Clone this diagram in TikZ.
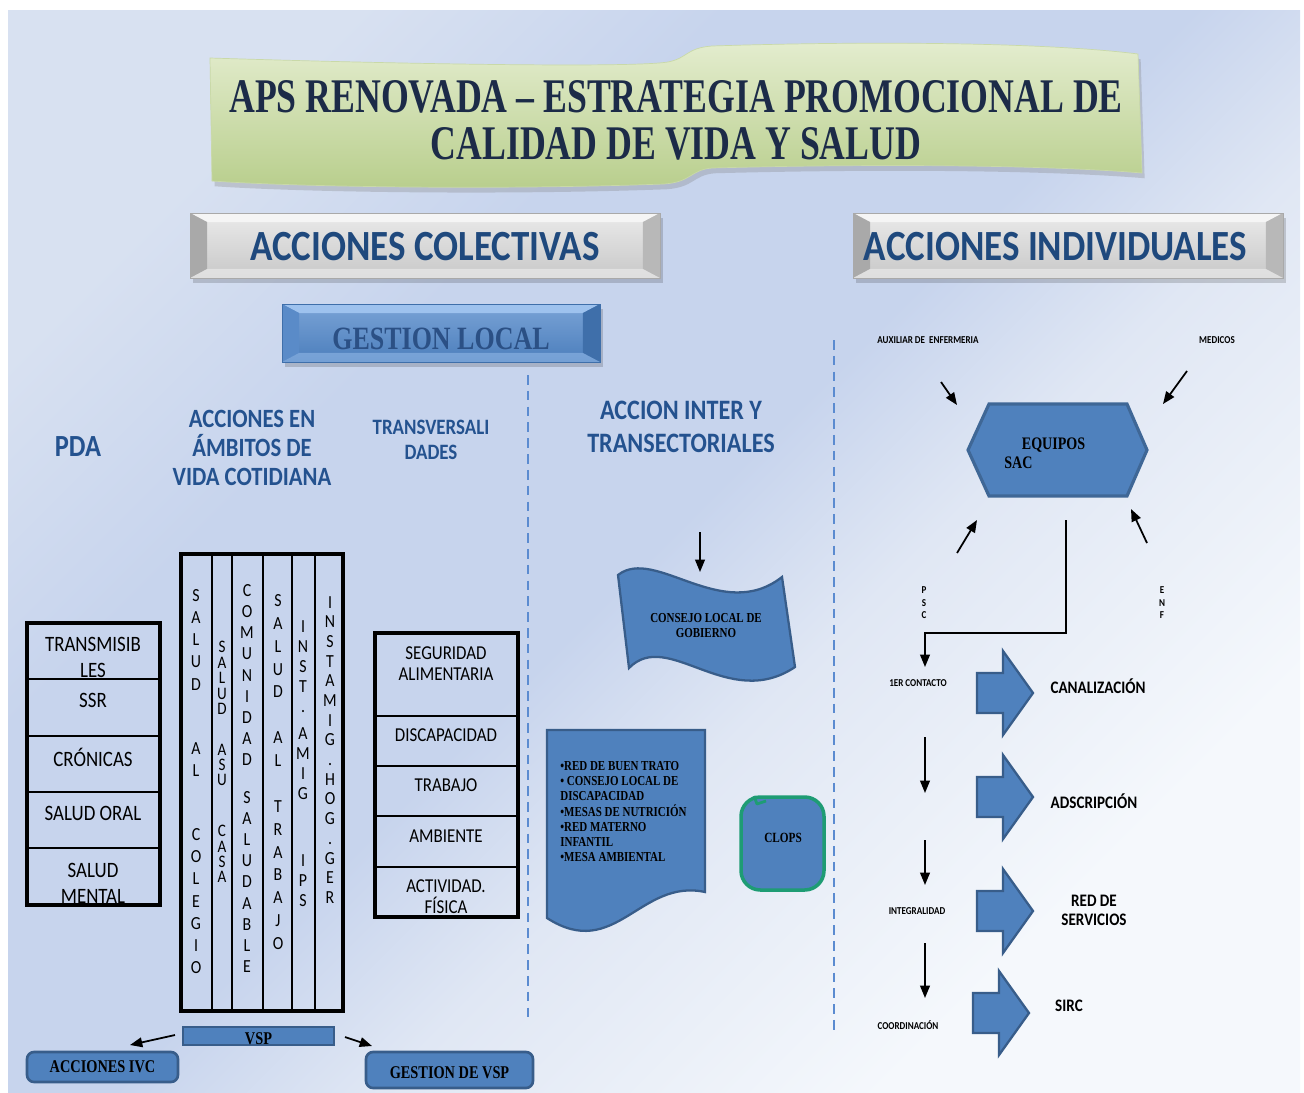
\documentclass[tikz,border=0pt]{standalone}
\usepackage{fontspec}
\setmainfont{Liberation Serif}
\newfontfamily\ttlfont[FakeStretch=0.74]{Liberation Serif}
\newfontfamily\srfont[FakeStretch=0.8]{Liberation Serif}
\newfontfamily\hdfont[FakeStretch=0.86]{Carlito}
\usetikzlibrary{arrows.meta,positioning,shadows}
\definecolor{Fondo}{HTML}{C7D4ED}
\definecolor{FondoMedio}{HTML}{E0E7F4}
\definecolor{FondoClaro}{HTML}{F5F8FC}
\definecolor{FondoArriba}{HTML}{D8E1F1}
\definecolor{Azul}{HTML}{4F81BD}
\definecolor{AzulBorde}{HTML}{385D8A}
\definecolor{AzulHex}{HTML}{3F6796}
\definecolor{AzulTexto}{HTML}{1F497D}
\definecolor{AzulTitulo}{HTML}{24528F}
\definecolor{AzulGestion}{HTML}{2B5085}
\definecolor{Marino}{HTML}{1C2B48}
\definecolor{Guion}{HTML}{5B8BD0}
\definecolor{VerdeA}{HTML}{E4EDCF}
\definecolor{VerdeB}{HTML}{B8CE8C}
\definecolor{VerdeC}{HTML}{C9D9A8}
\definecolor{VerdeBorde}{HTML}{1E9C74}
\definecolor{GrisA}{HTML}{EAEAEA}
\definecolor{GrisB}{HTML}{C8C8C8}
\definecolor{GrisTope}{HTML}{F5F5F5}
\definecolor{GrisIzq}{HTML}{A9A9A9}
\definecolor{GrisDer}{HTML}{B8B8B8}
\definecolor{AzulCaraA}{HTML}{7AA3D6}
\definecolor{AzulCaraB}{HTML}{4B7EBC}
\definecolor{AzulTope}{HTML}{9EC2EE}
\definecolor{AzulIzq}{HTML}{5A8BC8}
\definecolor{AzulDer}{HTML}{3F6FAA}
\pgfdeclareverticalshading{fondoshade}{100bp}{color(0bp)=(FondoClaro); color(27bp)=(FondoClaro);
  color(42bp)=(FondoMedio); color(50bp)=(Fondo); color(64bp)=(Fondo); color(75bp)=(FondoArriba);
  color(100bp)=(FondoArriba)}

\tikzset{
  bevel/.style n args={3}{path picture={
    \coordinate (bnw) at (path picture bounding box.north west);
    \coordinate (bne) at (path picture bounding box.north east);
    \coordinate (bse) at (path picture bounding box.south east);
    \coordinate (bsw) at (path picture bounding box.south west);
    \fill[#1] (bnw) -- (bne) -- ([shift={(-17,9)}]bne) -- ([shift={(17,9)}]bnw) -- cycle;
    \fill[#2] (bnw) -- ([shift={(17,9)}]bnw) -- ([shift={(17,-9)}]bsw) -- (bsw) -- cycle;
    \fill[#3] (bne) -- ([shift={(-17,9)}]bne) -- ([shift={(-17,-9)}]bse) -- (bse) -- cycle;
    \fill[#1,opacity=.5] (bsw) -- ([shift={(17,-9)}]bsw) -- ([shift={(-17,-9)}]bse) -- (bse) -- cycle;
  }},
  graybox/.style={minimum height=1.3cm,inner sep=0pt,top color=GrisA,bottom color=GrisB,
    draw=GrisIzq,line width=.4pt,bevel={GrisTope}{GrisIzq}{GrisDer},text height=17.5pt,text depth=0pt,
    font=\hdfont\bfseries\fontsize{24.5}{26}\selectfont,text=AzulTexto},
  bluebox/.style={minimum height=1.16cm,inner sep=0pt,top color=AzulCaraA,bottom color=AzulCaraB,
    draw=AzulDer,line width=.4pt,bevel={AzulTope}{AzulIzq}{AzulDer},text height=18.4pt,text depth=0pt,
    font=\srfont\bfseries\fontsize{18.5}{20}\selectfont,text=AzulGestion},
  sombra/.style={black,opacity=.16},
  titulo/.style={top color=VerdeA,bottom color=VerdeB,draw=VerdeC,line width=.4pt,
    drop shadow={opacity=.3,shadow xshift=1.5pt,shadow yshift=-3pt}},
  titulotxt/.style={font=\ttlfont\bfseries\fontsize{27.5}{26.7}\selectfont,text=Marino,align=center,inner sep=0pt},
  encabezado/.style={font=\hdfont\bfseries,text=AzulTitulo,align=center,inner sep=0pt},
  celda/.style={font=\hdfont\fontsize{12.5}{14.8}\selectfont,align=center,inner sep=0pt},
  celdab/.style={font=\hdfont\fontsize{11.2}{12}\selectfont,align=center,inner sep=0pt},
  letras/.style={font=\hdfont\fontsize{10.5}{#1}\selectfont,align=center,inner sep=0pt,anchor=north},
  borde/.style={line width=2pt},
  fila/.style={line width=1.1pt},
  divisor/.style={Guion,line width=1.1pt,dash pattern=on 5.5pt off 3.5pt},
  azulforma/.style={fill=Azul,draw=AzulBorde,line width=1.3pt},
  hexforma/.style={fill=Azul,draw=AzulHex,line width=1.8pt},
  clopsforma/.style={fill=Azul,draw=VerdeBorde,line width=2pt},
  serifb/.style={font=\srfont\bfseries\fontsize{7.8}{8.65}\selectfont,align=center,inner sep=0pt},
  mini/.style={font=\hdfont\bfseries\fontsize{6}{7.1}\selectfont,align=center,inner sep=0pt},
  etiqueta/.style={font=\hdfont\bfseries\fontsize{10}{10.8}\selectfont,align=center,inner sep=0pt},
  cajaazul/.style={fill=Azul,draw=AzulBorde,line width=1.5pt,rounded corners=4pt,inner sep=0pt,
    font=\srfont\bfseries\fontsize{10.2}{11}\selectfont},
  flecha/.style={-{Triangle[length=7pt,width=5.5pt]},line width=1pt},
}

\begin{document}
\begin{tikzpicture}[x=0.02cm,y=-0.02cm]
\useasboundingbox (0,0) rectangle (1304,1092);
% fondo
\fill[white] (0,0) rectangle (1304,1092);
\shade[shading=fondoshade,shading angle=45] (8,10) rectangle (1300,1092);

% titulo
\path[titulo] (210,58) .. controls (400,64) and (630,68) .. (668,62)
  .. controls (688,58) and (686,48) .. (712,46) .. controls (900,40) and (1060,44) .. (1138,54)
  -- (1142,173) .. controls (1060,166) and (900,163) .. (712,168)
  .. controls (690,170) and (692,182) .. (664,184) .. controls (500,190) and (300,187) .. (212,181) -- cycle;
\node[titulotxt] (titulo) at (676,120) {APS RENOVADA – ESTRATEGIA PROMOCIONAL DE\\CALIDAD DE VIDA Y SALUD};

% cajas con bisel
\fill[sombra] (193,218) rectangle (663,283);
\fill[sombra] (856,218) rectangle (1286,283);
\fill[sombra] (285,309) rectangle (603,367);
\node[graybox,minimum width=9.4cm] (colectivas) at (425,245.5) {ACCIONES COLECTIVAS};
\node[graybox,minimum width=8.6cm] (individuales) at (1068,245.5) {ACCIONES INDIVIDUALES\kern0.5cm};
\node[bluebox,minimum width=6.36cm] (gestion) at (441,333) {GESTION LOCAL};

\draw[divisor] (528,375) -- (528,1020);
\draw[divisor] (834,340) -- (834,1030);

% encabezados
\node[encabezado,font=\hdfont\bfseries\fontsize{17.5}{20}\selectfont] (pda) at (78,447) {PDA};
\node[encabezado,font=\hdfont\bfseries\fontsize{15}{16.5}\selectfont] (ambitos) at (252,448) {ACCIONES EN\\ÁMBITOS DE\\VIDA COTIDIANA};
\node[encabezado,font=\hdfont\bfseries\fontsize{12.5}{14.2}\selectfont] (transv) at (431,440) {TRANSVERSALI\\DADES};
\node[encabezado,font=\hdfont\bfseries\fontsize{16}{18.8}\selectfont] (inter) at (681,427) {ACCION INTER Y\\TRANSECTORIALES};

% tabla PDA
\node[celda] (transmisibles) at (93,657) {TRANSMISIB\\LES};
\node[celda] (ssr) at (93,700) {SSR};
\node[celda] (cronicas) at (93,757) {CRÓNICAS};
\node[celda] (oral) at (93,813) {SALUD ORAL};
\node[celda] (mental) at (93,883) {SALUD\\MENTAL};
\foreach \y in {679,736,792,848} \draw[fila] (27,\y) -- (160,\y);
\draw[borde] (27,623) rectangle (160,905);

% tabla de ambitos
\foreach \x in {212,232,263,292,315} \draw[line width=.9pt] (\x,554) -- (\x,1011);
\draw[borde] (181,554) rectangle (343,1011);
\node[letras=12.64pt] (colegio) at (196,589) {S\\A\\L\\U\\D\\[23.8pt]A\\L\\[23.8pt]C\\O\\L\\E\\G\\I\\O};
\node[letras=8.8pt,font=\hdfont\fontsize{10}{8.8}\selectfont] (casa) at (222,641) {S\\A\\L\\U\\D\\[14.2pt]A\\S\\U\\[20pt]C\\A\\S\\A};
\node[letras=12.06pt] (comunidad) at (247,584) {C\\O\\M\\U\\N\\I\\D\\A\\D\\[9.2pt]S\\A\\L\\U\\D\\A\\B\\L\\E};
\node[letras=13.03pt] (trabajo) at (278,594) {S\\A\\L\\U\\D\\[13pt]A\\L\\[13pt]T\\R\\A\\B\\A\\J\\O};
\node[letras=11.38pt] (ips) at (303,620) {I\\N\\S\\T\\.\\[4pt]A\\M\\I\\G\\[26.7pt]I\\P\\S};
\node[letras=11.2pt] (hogar) at (330,596) {I\\N\\S\\T\\A\\M\\I\\G\\.\\H\\O\\G\\.\\G\\E\\R};

% tabla transversalidades
\node[celdab] (seguridad) at (446,663.5) {SEGURIDAD\\ALIMENTARIA};
\node[celdab] (discapacidad) at (446,735) {DISCAPACIDAD};
\node[celdab] (trabajot) at (446,785) {TRABAJO};
\node[celdab] (ambiente) at (446,836) {AMBIENTE};
\node[celdab] (actividad) at (446,896.5) {ACTIVIDAD.\\FÍSICA};
\foreach \y in {716,766,816,867} \draw[fila] (375,\y) -- (518,\y);
\draw[borde] (375,633) rectangle (518,917);

% VSP
\node[cajaazul,rounded corners=0pt,minimum width=3.02cm,minimum height=0.36cm,text height=10pt,text depth=0pt] (vsp) at (258.5,1036) {VSP};
\node[cajaazul,minimum width=3.02cm,minimum height=0.6cm] (ivc) at (102.5,1067) {ACCIONES IVC};
\node[cajaazul,minimum width=3.34cm,minimum height=0.72cm,text height=10.2pt,text depth=0pt] (gvsp) at (449.5,1070) {GESTION DE VSP};
\coordinate (vspizq) at (175,1035);
\coordinate (ivcpunta) at (130,1045);
\coordinate (vspder) at (345,1037);
\coordinate (gvsppunta) at (372,1046);
\draw[flecha] (vspizq) -- (ivcpunta);
\draw[flecha] (vspder) -- (gvsppunta);

% accion inter y transectorial
\filldraw[azulforma] (618,575) .. controls (655,546) and (722,624) .. (782,577)
  -- (795,667) .. controls (728,712) and (668,628) .. (629,668) -- cycle;
\node[serifb] (consejo) at (706,625.5) {CONSEJO LOCAL DE\\GOBIERNO};
\coordinate (consejoarr) at (700,532);
\coordinate (consejotope) at (700,572);
\draw[flecha] (consejoarr) -- (consejotope);

\filldraw[azulforma] (547,730) -- (705,730) -- (705,892) .. controls (640,878) and (615,962) .. (547,918) -- cycle;
\node[serifb,align=left,anchor=north west] (redes) at (560,761) {•RED DE BUEN TRATO\\• CONSEJO LOCAL DE\\DISCAPACIDAD\\•MESAS DE NUTRICIÓN\\•RED MATERNO\\INFANTIL\\•MESA AMBIENTAL};

\filldraw[clopsforma,rounded corners=11] (741,850) -- (741,797) -- (824,797) -- (824,890) -- (741,890) -- cycle;
\draw[VerdeBorde,line width=1.6pt,line join=round] (754,796) -- (757,804) -- (766,801);
\node[serifb,font=\srfont\bfseries\fontsize{8}{9}\selectfont] (clops) at (783,838) {CLOPS};

% acciones individuales
\filldraw[hexforma] (968,450) -- (989,404) -- (1127,404) -- (1147,450) -- (1127,496) -- (989,496) -- cycle;
\node[serifb,font=\srfont\bfseries\fontsize{10}{10.8}\selectfont,align=left,anchor=west] (equipos) at (1004,453) {\hspace*{10pt}EQUIPOS\\SAC};

\node[mini] (auxiliar) at (928,340) {AUXILIAR DE\ \ ENFERMERIA};
\node[mini] (medicos) at (1217,340) {MEDICOS};
\node[mini] (psc) at (924,603) {P\\S\\C};
\node[mini] (enf) at (1162,603) {E\\N\\F};

\coordinate (auxA) at (941,382);   \coordinate (auxB) at (957,405);
\coordinate (medA) at (1187,371);  \coordinate (medB) at (1163,404);
\coordinate (pscA) at (957,553);   \coordinate (pscB) at (977,520);
\coordinate (enfA) at (1147,543);  \coordinate (enfB) at (1131,509);
\draw[flecha] (auxA) -- (auxB);
\draw[flecha] (medA) -- (medB);
\draw[flecha] (pscA) -- (pscB);
\draw[flecha] (enfA) -- (enfB);

\coordinate (salida) at (1066,520);
\coordinate (codo) at (925,633);
\coordinate (contactoarr) at (925,667);
\draw[flecha] (salida) |- (codo) -- (contactoarr);

\node[mini] (contacto) at (918,683) {1ER CONTACTO};
\node[mini] (integralidad) at (917,911) {INTEGRALIDAD};
\node[mini] (coordinacion) at (908,1025) {COORDINACIÓN};
\foreach \a/\b [count=\i] in {737/793,840/885,943/998} {
  \coordinate (bajaA\i) at (925,\a);
  \coordinate (bajaB\i) at (925,\b);
  \draw[flecha] (bajaA\i) -- (bajaB\i);
}

\foreach \dx/\y in {0/693,0/797,0/911,-4/1013}
  \filldraw[azulforma] (977+\dx,\y-20) -- (1003+\dx,\y-20) -- (1003+\dx,\y-42) -- (1033+\dx,\y)
    -- (1003+\dx,\y+42) -- (1003+\dx,\y+20) -- (977+\dx,\y+20) -- cycle;
\node[etiqueta] (canalizacion) at (1098,686) {CANALIZACIÓN};
\node[etiqueta] (adscripcion) at (1094,801) {ADSCRIPCIÓN};
\node[etiqueta] (redserv) at (1094,910.5) {RED DE\\SERVICIOS};
\node[etiqueta] (sirc) at (1069,1006) {SIRC};
\end{tikzpicture}
\end{document}
